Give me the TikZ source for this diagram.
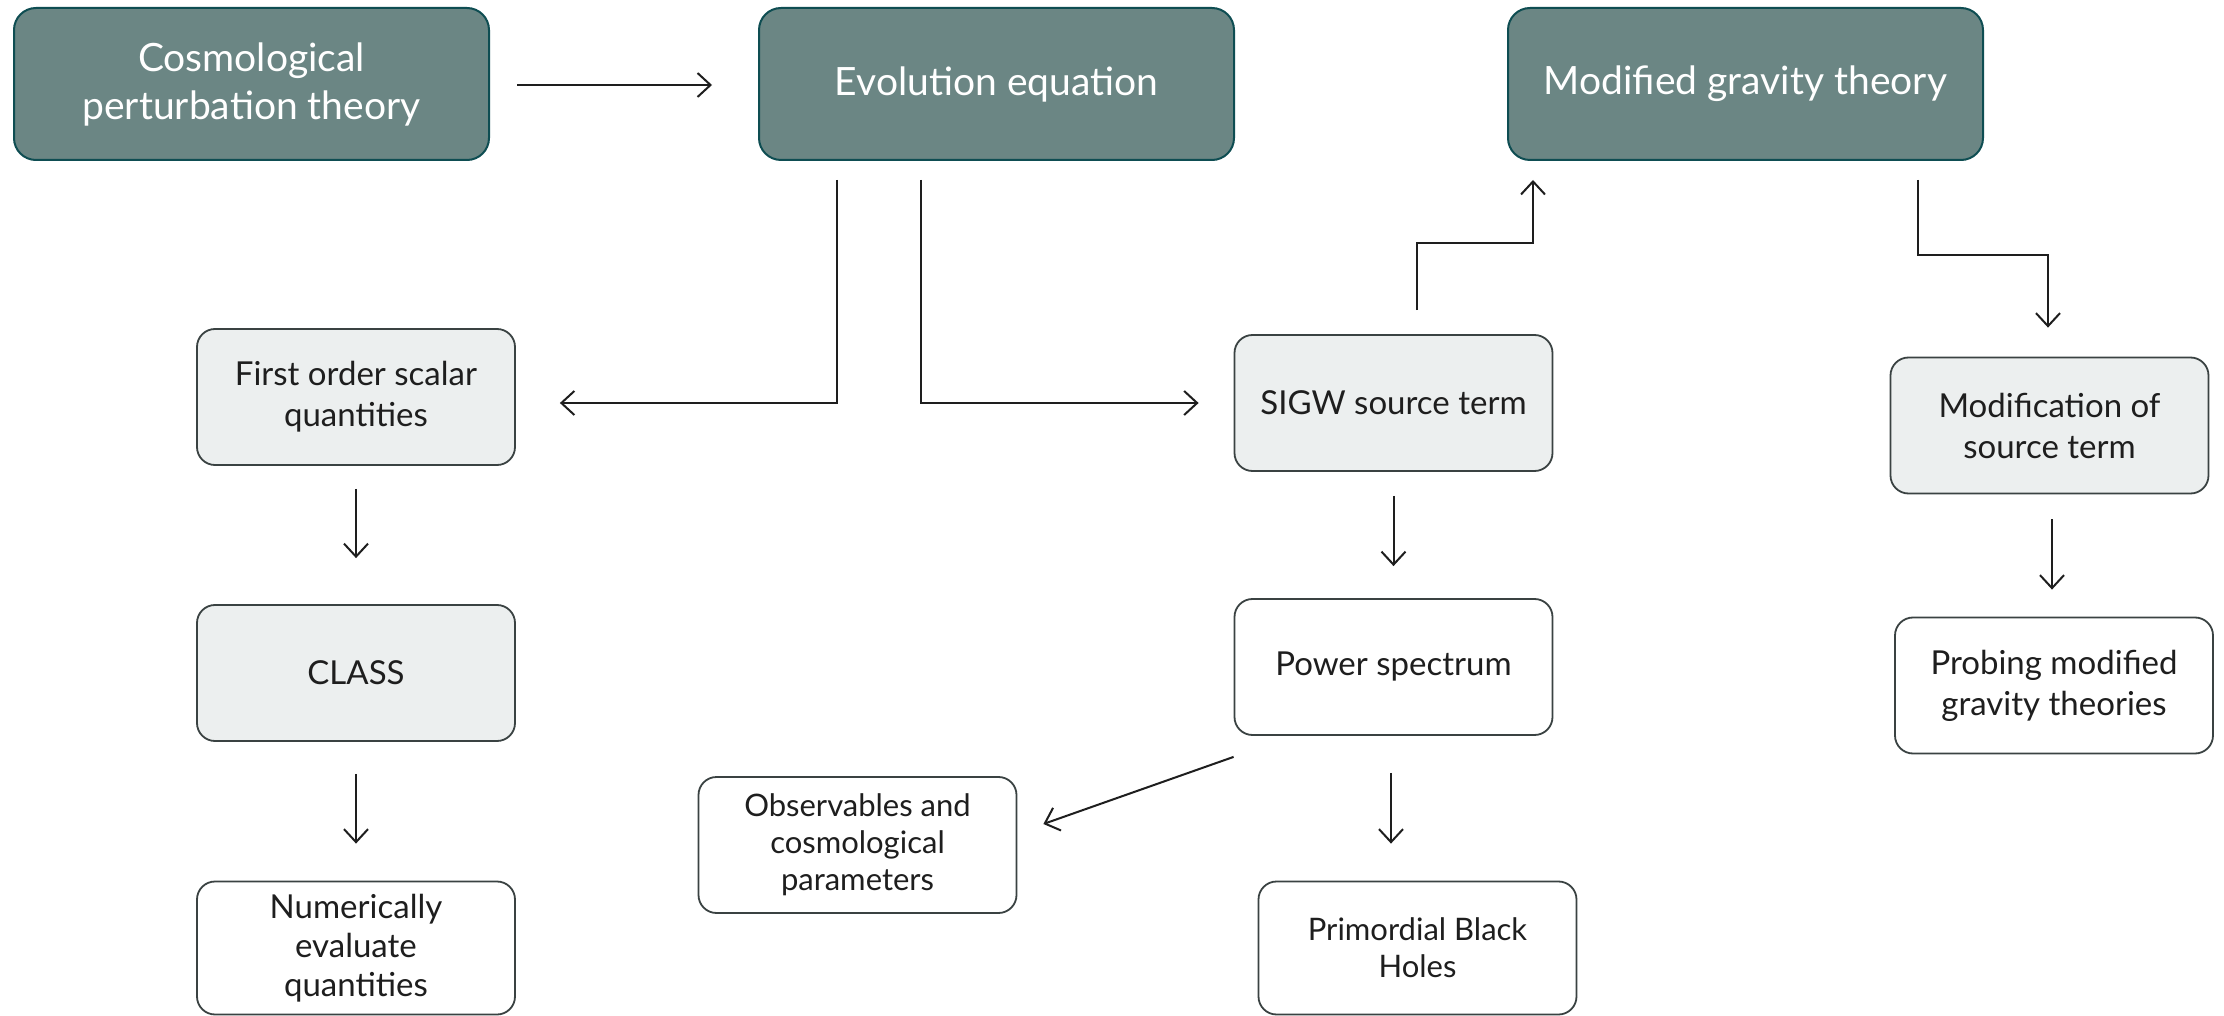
\documentclass[tikz,border=0pt]{standalone}
\usepackage{fontspec}
\setmainfont{Lato}
\usetikzlibrary{arrows.meta,calc}
\definecolor{darkfill}{HTML}{6B8684}
\definecolor{darkline}{HTML}{0E4D52}
\definecolor{lightfill}{HTML}{ECEFEF}
\definecolor{boxline}{HTML}{3A4242}
\definecolor{ink}{HTML}{1E1E1E}
\begin{document}
\begin{tikzpicture}[x=0.5pt,y=-0.5pt,
 darkbox/.style={rectangle, rounded corners=11pt, draw=darkline, fill=darkfill, line width=1pt, minimum width=237.5pt, minimum height=76pt, text=white, align=center, font=\fontsize{19.5}{24}\selectfont, inner sep=0pt},
 lightbox/.style={rectangle, rounded corners=9pt, draw=boxline, fill=lightfill, line width=0.9pt, minimum width=159pt, minimum height=68pt, text=ink, align=center, font=\fontsize{16.5}{20.5}\selectfont, inner sep=0pt},
 whitebox/.style={lightbox, fill=white},
 condfont/.style={font=\fontsize{15.5}{18.5}\selectfont},
 arr/.style={draw=ink, line width=1pt, -{Straight Barb[length=6.5pt,width=12pt]}}
]
\useasboundingbox[fill=white] (0,0) rectangle (2224,1016);

\node[darkbox] (cpt) at (251.5,84) {Cosmological\\perturbation theory};
\node[darkbox] (evo) at (996.5,84) {Evolution equation};
\node[darkbox] (mgt) at (1745.5,84) {Modified gravity theory};

\node[lightbox] (first) at (356,397) {First order scalar\\quantities};
\node[lightbox] (class) at (356,673) {CLASS};
\node[whitebox, minimum height=66.5pt, font=\fontsize{16.5}{19.5}\selectfont] (num) at (356,948) {Numerically\\evaluate\\quantities};

\node[lightbox] (sigw) at (1393.5,403) {SIGW source term};
\node[whitebox] (power) at (1393.5,667) {Power spectrum};
\node[whitebox, condfont] (obs) at (857.5,845) {Observables and\\cosmological\\parameters};
\node[whitebox, condfont, minimum height=66.5pt] (pbh) at (1417.5,948) {Primordial Black\\Holes};

\node[lightbox] (modsrc) at (2049.5,425.5) {Modification of\\source term};
\node[whitebox] (probe) at (2054,685.5) {Probing modified\\gravity theories};

\draw[arr] ($(cpt.east)+(27,1)$) -- ($(evo.west)+(-46,1)$);
\draw[arr] ($(evo.south)+(-159.5,19)$) |- ($(first.east)+(44,6)$);
\draw[arr] ($(evo.south)+(-75.5,19)$) |- ($(sigw.west)+(-35,0)$);
\draw[arr] ($(sigw.north)+(23.5,-24)$) -- ($(sigw.north)+(23.5,-91)$) -| ($(mgt.south)+(-212.5,19)$);
\draw[arr] ($(mgt.south)+(172.5,19)$) -- ($(mgt.south)+(172.5,94)$) -| ($(modsrc.north)+(-1.5,-29)$);
\draw[arr] ($(first.south)+(0,23)$) -- ($(class.north)+(0,-46)$);
\draw[arr] ($(class.south)+(0,32)$) -- ($(num.north)+(0,-37)$);
\draw[arr] ($(sigw.south)+(0,24)$) -- ($(power.north)+(0,-32)$);
\draw[arr] ($(power.south)+(-2.5,37)$) -- ($(pbh.north)+(-26.5,-37)$);
\draw[arr] ($(power.south west)+(0,21)$) -- ($(obs.east)+(26,-21)$);
\draw[arr] ($(modsrc.south)+(2.5,25)$) -- ($(probe.north)+(-2,-27)$);
\end{tikzpicture}
\end{document}
